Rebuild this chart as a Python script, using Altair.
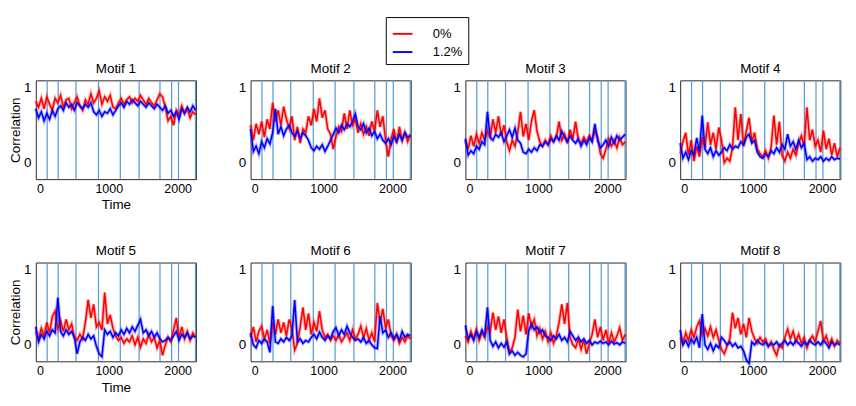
import altair as alt
import pandas as pd

# time grid: first sample and sampling step
t_start = -60
t_step = 40
# event boundaries (vertical lines), shared by all panels
boundaries = [105, 265, 523, 850, 1167, 1440, 1743, 1912, 2012, 2258]
x_ticks = [0, 1000, 2000]
y_ticks = [0, 0.5, 1]
series_names = ["0%", "1.2%"]

red1 = [0.82, 0.74, 0.86, 0.72, 0.88, 0.78, 0.70, 0.86, 0.80, 0.90,
        0.74, 0.84, 0.86, 0.72, 0.80, 0.88, 0.76, 0.70, 0.84, 0.78,
        0.92, 0.80, 0.86, 0.96, 0.78, 0.88, 0.82, 0.90, 0.74, 0.72,
        0.80, 0.86, 0.78, 0.84, 0.88, 0.80, 0.86, 0.82, 0.90, 0.84,
        0.78, 0.86, 0.80, 0.76, 0.84, 0.92, 0.88, 0.74, 0.56, 0.62,
        0.50, 0.70, 0.64, 0.76, 0.66, 0.72, 0.60, 0.68, 0.64]
blue1 = [0.72, 0.60, 0.68, 0.56, 0.66, 0.58, 0.70, 0.62, 0.72, 0.76,
         0.70, 0.80, 0.74, 0.78, 0.70, 0.80, 0.76, 0.72, 0.78, 0.74,
         0.80, 0.68, 0.64, 0.70, 0.62, 0.68, 0.66, 0.72, 0.64, 0.70,
         0.76, 0.80, 0.74, 0.82, 0.78, 0.84, 0.80, 0.76, 0.82, 0.78,
         0.74, 0.80, 0.76, 0.72, 0.78, 0.74, 0.70, 0.76, 0.66, 0.70,
         0.62, 0.68, 0.58, 0.72, 0.66, 0.74, 0.68, 0.76, 0.70]

red2 = [0.50, 0.30, 0.52, 0.38, 0.55, 0.34, 0.58, 0.45, 0.80, 0.55,
        0.70, 0.50, 0.75, 0.58, 0.46, 0.62, 0.30, 0.48, 0.26, 0.45,
        0.40, 0.62, 0.50, 0.72, 0.55, 0.86, 0.60, 0.70, 0.45, 0.38,
        0.18, 0.35, 0.48, 0.42, 0.66, 0.45, 0.70, 0.50, 0.58, 0.40,
        0.52, 0.38, 0.48, 0.36, 0.55, 0.42, 0.70, 0.48, 0.62, 0.30,
        0.08, 0.32, 0.45, 0.26, 0.48, 0.30, 0.40, 0.28, 0.38]
blue2 = [0.45, 0.15, 0.22, 0.12, 0.28, 0.20, 0.32, 0.25, 0.40, 0.72,
         0.38, 0.48, 0.36, 0.45, 0.50, 0.40, 0.35, 0.42, 0.32, 0.40,
         0.36, 0.30, 0.20, 0.16, 0.22, 0.18, 0.24, 0.15, 0.22, 0.30,
         0.38, 0.46, 0.40, 0.50, 0.44, 0.52, 0.48, 0.55, 0.65, 0.48,
         0.44, 0.52, 0.40, 0.46, 0.36, 0.42, 0.32, 0.38, 0.30, 0.26,
         0.32, 0.24, 0.36, 0.28, 0.38, 0.30, 0.40, 0.34, 0.36]

red3 = [0.30, 0.18, 0.36, 0.22, 0.38, 0.26, 0.40, 0.30, 0.42, 0.34,
        0.58, 0.40, 0.62, 0.36, 0.50, 0.28, 0.16, 0.30, 0.22, 0.40,
        0.68, 0.35, 0.52, 0.30, 0.56, 0.70, 0.42, 0.28, 0.22, 0.30,
        0.24, 0.36, 0.28, 0.34, 0.55, 0.30, 0.38, 0.26, 0.44, 0.32,
        0.55, 0.30, 0.26, 0.34, 0.28, 0.36, 0.30, 0.42, 0.34, 0.12,
        0.06, 0.18, 0.32, 0.22, 0.30, 0.20, 0.34, 0.24, 0.28]
blue3 = [0.32, 0.10, 0.16, 0.12, 0.22, 0.18, 0.28, 0.24, 0.68, 0.34,
         0.30, 0.38, 0.34, 0.40, 0.28, 0.36, 0.44, 0.34, 0.46, 0.30,
         0.26, 0.14, 0.12, 0.18, 0.14, 0.20, 0.16, 0.24, 0.22, 0.28,
         0.24, 0.32, 0.28, 0.36, 0.30, 0.42, 0.34, 0.28, 0.36, 0.30,
         0.26, 0.32, 0.22, 0.30, 0.24, 0.34, 0.28, 0.52, 0.30, 0.20,
         0.24, 0.30, 0.22, 0.34, 0.26, 0.36, 0.30, 0.34, 0.38]

red4 = [0.12, 0.28, 0.40, 0.10, 0.30, 0.02, 0.22, 0.08, 0.34, 0.20,
        0.54, 0.24, 0.40, 0.18, 0.47, 0.30, 0.00, 0.06, 0.02, 0.20,
        0.74, 0.30, 0.65, 0.22, 0.42, 0.60, 0.28, 0.40, 0.18, 0.12,
        0.08, 0.16, 0.06, 0.20, 0.63, 0.24, 0.55, 0.10, 0.02, 0.14,
        0.06, 0.18, 0.10, 0.26, 0.36, 0.22, 0.74, 0.30, 0.44, 0.22,
        0.30, 0.14, 0.43, 0.18, 0.32, 0.10, 0.26, 0.08, 0.20]
blue4 = [0.26, 0.06, 0.14, 0.04, 0.16, 0.10, 0.33, 0.14, 0.63, 0.18,
         0.12, 0.20, 0.08, 0.16, 0.10, 0.14, 0.20, 0.16, 0.24, 0.18,
         0.22, 0.20, 0.28, 0.24, 0.34, 0.38, 0.26, 0.30, 0.14, 0.08,
         0.06, 0.12, 0.08, 0.16, 0.12, 0.20, 0.14, 0.24, 0.18, 0.38,
         0.22, 0.28, 0.18, 0.30, 0.20, 0.26, 0.04, 0.08, 0.02, 0.06,
         0.04, 0.08, 0.02, 0.06, 0.03, 0.08, 0.04, 0.06, 0.05]

red5 = [0.18, 0.08, 0.22, 0.12, 0.30, 0.16, 0.38, 0.45, 0.22, 0.32,
        0.18, 0.34, 0.20, 0.28, 0.10, 0.06, 0.14, 0.08, 0.30, 0.60,
        0.36, 0.54, 0.24, 0.30, 0.20, 0.70, 0.28, 0.40, 0.22, 0.12,
        0.06, 0.10, 0.02, 0.08, 0.04, 0.12, 0.00, 0.10, -0.03, 0.08,
        0.02, 0.14, 0.04, 0.10, -0.04, 0.06, -0.14, 0.00, 0.10, 0.04,
        0.20, 0.36, 0.10, 0.24, 0.08, 0.18, 0.06, 0.16, 0.10]
blue5 = [0.24, 0.04, 0.14, 0.08, 0.18, 0.12, 0.20, 0.16, 0.63, 0.18,
         0.12, 0.20, 0.14, 0.18, 0.10, -0.12, 0.04, 0.10, 0.06, 0.14,
         0.08, 0.12, -0.02, -0.12, -0.16, 0.20, 0.14, 0.18, 0.10, 0.16,
         0.12, 0.20, 0.14, 0.22, 0.16, 0.24, 0.18, 0.26, 0.34, 0.16,
         0.20, 0.12, 0.18, 0.10, 0.16, 0.08, 0.04, 0.06, 0.10, 0.06,
         0.12, 0.18, 0.06, 0.14, 0.10, 0.16, 0.08, 0.12, 0.10]

red6 = [0.10, 0.24, 0.04, 0.18, 0.25, 0.08, 0.20, 0.02, 0.30, 0.14,
        0.34, 0.16, 0.30, 0.12, 0.34, 0.22, -0.07, 0.02, 0.24, 0.50,
        0.20, 0.42, 0.14, 0.30, 0.18, 0.45, 0.20, 0.10, 0.14, 0.06,
        0.12, 0.06, 0.14, 0.04, 0.10, 0.16, 0.06, 0.20, 0.08, 0.14,
        0.25, 0.10, 0.22, 0.06, 0.16, 0.04, 0.56, 0.30, 0.48, 0.22,
        0.34, 0.12, 0.06, 0.14, 0.02, 0.10, 0.04, 0.12, 0.08]
blue6 = [0.16, 0.00, -0.04, 0.06, 0.02, 0.08, 0.04, -0.10, 0.52, 0.04,
         0.02, 0.08, 0.04, 0.10, 0.06, 0.12, 0.60, 0.04, 0.08, 0.02,
         0.06, 0.04, 0.10, 0.14, 0.08, 0.17, 0.10, 0.06, 0.12, 0.08,
         0.18, 0.23, 0.12, 0.20, 0.14, 0.25, 0.16, 0.10, 0.06, 0.08,
         0.04, 0.10, 0.02, 0.06, 0.00, -0.04, -0.05, 0.38, 0.16, 0.20,
         0.10, 0.16, 0.08, 0.14, 0.06, 0.18, 0.10, 0.14, 0.12]

red7 = [0.12, 0.04, 0.18, 0.08, 0.21, 0.06, 0.16, 0.10, 0.24, 0.18,
        0.43, 0.20, 0.38, 0.16, 0.34, 0.10, -0.10, -0.04, 0.10, 0.47,
        0.18, 0.39, 0.14, 0.42, 0.24, 0.34, 0.12, 0.22, 0.08, 0.18,
        0.04, 0.16, 0.02, 0.12, 0.30, 0.54, 0.28, 0.56, 0.10, 0.00,
        -0.04, 0.08, -0.06, 0.06, -0.12, 0.02, 0.14, 0.34, 0.10, 0.24,
        0.06, 0.20, 0.02, 0.16, 0.04, 0.12, 0.23, 0.06, 0.14]
blue7 = [0.26, 0.08, 0.14, 0.06, 0.18, 0.10, 0.20, 0.12, 0.50, 0.06,
         -0.02, 0.04, -0.04, 0.02, -0.03, 0.04, -0.12, -0.08, -0.14, -0.10,
         -0.14, -0.16, -0.12, 0.19, 0.28, 0.20, 0.24, 0.16, 0.20, 0.12,
         0.10, 0.06, 0.12, 0.08, 0.14, 0.06, 0.10, 0.04, 0.18, 0.12,
         0.06, 0.10, 0.04, 0.08, 0.02, 0.06, 0.00, 0.04, 0.02, 0.05,
         0.02, 0.04, 0.00, 0.05, 0.01, 0.03, 0.00, 0.04, 0.02]

red8 = [0.10, 0.02, 0.16, 0.06, 0.20, 0.10, 0.24, 0.32, 0.14, 0.22,
        0.12, 0.24, 0.10, 0.20, 0.06, -0.06, -0.12, -0.02, 0.08, 0.43,
        0.22, 0.36, 0.14, 0.28, 0.10, 0.36, 0.18, 0.08, 0.02, 0.10,
        0.04, 0.08, -0.02, 0.04, -0.06, -0.14, 0.00, -0.04, 0.10, 0.21,
        0.08, 0.18, 0.04, 0.14, 0.02, 0.10, -0.04, 0.06, 0.12, 0.04,
        0.18, 0.32, 0.04, 0.12, 0.00, 0.08, -0.02, 0.06, 0.02]
blue8 = [0.20, 0.00, 0.06, -0.02, 0.08, 0.02, 0.10, -0.04, 0.41, 0.00,
         -0.06, 0.02, -0.08, 0.00, -0.04, 0.10, 0.06, 0.00, 0.04, -0.02,
         0.02, -0.04, -0.02, -0.08, -0.20, -0.25, 0.04, 0.00, 0.06, 0.02,
         0.00, 0.04, -0.02, 0.02, 0.00, 0.04, -0.02, 0.02, 0.06, 0.00,
         0.04, 0.00, 0.06, 0.02, -0.02, 0.04, 0.00, 0.06, 0.02, 0.00,
         0.04, 0.00, 0.06, 0.02, -0.04, 0.04, 0.00, 0.02, 0.00]

motifs = [
    ("Motif 1", red1, blue1), ("Motif 2", red2, blue2),
    ("Motif 3", red3, blue3), ("Motif 4", red4, blue4),
    ("Motif 5", red5, blue5), ("Motif 6", red6, blue6),
    ("Motif 7", red7, blue7), ("Motif 8", red8, blue8),
]

FONT = "Liberation Sans"
PW, PH = 167, 103
xscale = alt.Scale(domain=[-60, 2265], nice=False, zero=False)
yscale = alt.Scale(domain=[-0.22, 1.1], nice=False, zero=False)
color_scale = alt.Scale(domain=series_names, range=["#ff0000", "#0000ff"])
bdf = pd.DataFrame({"b": boundaries})

legend_spec = alt.Legend(title=None, orient="none", legendX=365,
                         legendY=-66, symbolType="stroke",
                         symbolStrokeWidth=2, symbolSize=420,
                         symbolOpacity=1, labelFontSize=13.5,
                         labelFont=FONT, labelColor="#000",
                         labelOffset=20, rowPadding=1, padding=6,
                         strokeColor="#000", fillColor="#fff",
                         cornerRadius=0)


def make_panel(idx, title, red, blue):
    rows = []
    for name, vals in zip(series_names, [red, blue]):
        for i, v in enumerate(vals):
            rows.append({"t": t_start + t_step * i, "value": v, "series": name})
    df = pd.DataFrame(rows)
    first_col = idx % 4 == 0
    xaxis = alt.Axis(values=x_ticks, format="d", ticks=False, domain=False,
                     grid=False, labelFontSize=13, labelPadding=4,
                     labelFont=FONT, labelColor="#000", titleFontSize=14,
                     titleFont=FONT, titleFontWeight="normal",
                     titleColor="#000", titlePadding=3, labelFlush=False)
    yaxis = alt.Axis(values=y_ticks, format="d", ticks=False, domain=False,
                     grid=False,
                     labelExpr="datum.value == 0.5 ? '' : datum.label",
                     labelFontSize=14, labelPadding=5, labelFont=FONT,
                     labelColor="#000", titleFontSize=14, titleFont=FONT,
                     titleFontWeight="normal", titleColor="#000",
                     titlePadding=1)
    xt = "Time" if first_col else None
    yt = "Correlation" if first_col else None
    rules = alt.Chart(bdf).mark_rule(color="#5A9ED3", strokeWidth=1.3).encode(
        x=alt.X("b:Q", scale=xscale, axis=xaxis, title=xt)
    )
    halo = alt.Chart(df).mark_line(strokeWidth=3.6, opacity=0.3).encode(
        x=alt.X("t:Q", scale=xscale, axis=xaxis, title=xt),
        y=alt.Y("value:Q", scale=yscale, axis=yaxis, title=yt),
        color=alt.Color("series:N", scale=color_scale, legend=legend_spec),
    )
    lines = alt.Chart(df).mark_line(strokeWidth=1.6).encode(
        x=alt.X("t:Q", scale=xscale, axis=xaxis, title=xt),
        y=alt.Y("value:Q", scale=yscale, axis=yaxis, title=yt),
        color=alt.Color("series:N", scale=color_scale, legend=legend_spec),
    )
    return alt.layer(rules, halo, lines).properties(
        width=PW, height=PH,
        title=alt.TitleParams(title, fontSize=14, fontWeight="normal",
                              font=FONT, color="#000", offset=4),
    )


panels = [make_panel(i, *m) for i, m in enumerate(motifs)]
row1 = alt.hconcat(*panels[:4], spacing=35)
row2 = alt.hconcat(*panels[4:], spacing=35)
chart = alt.vconcat(row1, row2, spacing=32).configure_view(
    stroke="#222", strokeWidth=1
).properties(padding={"left": 0, "top": 0, "right": 0, "bottom": 0})

chart.save("out.html", embed_options={"renderer": "svg", "actions": False})
